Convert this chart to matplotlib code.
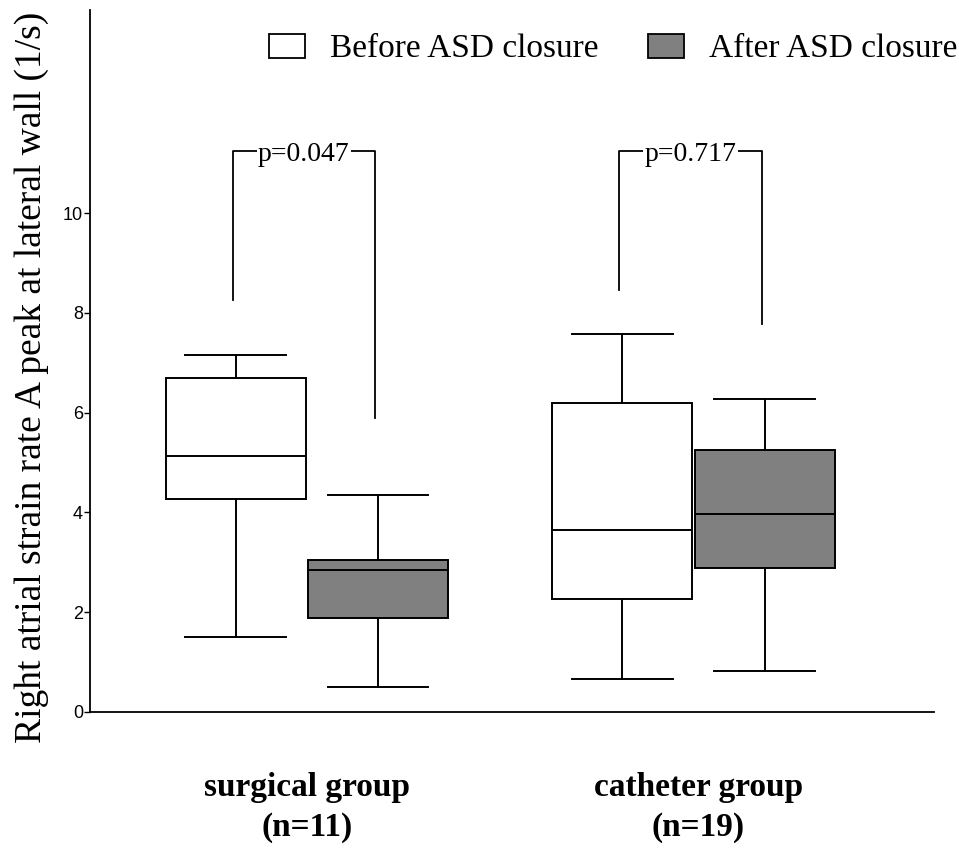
import matplotlib
matplotlib.use("Agg")
import matplotlib.pyplot as plt
from matplotlib.patches import Patch

# Right atrial strain rate, A peak at lateral wall (1/s)
groups = ["surgical group\n(n=11)", "catheter group\n(n=19)"]
conditions = ["Before ASD closure", "After ASD closure"]

# box statistics per group: [before, after]
whislo = [[1.50, 0.50], [0.66, 0.83]]
q1 = [[4.26, 1.88], [2.26, 2.89]]
med = [[5.14, 2.85], [3.64, 3.97]]
q3 = [[6.70, 3.05], [6.19, 5.26]]
whishi = [[7.15, 4.34], [7.58, 6.27]]

# significance brackets: p-value, left drop, right drop
p_labels = ["p=0.047", "p=0.717"]
bracket_top = 11.24
bracket_left = [8.26, 8.46]
bracket_right = [5.90, 7.78]

fill_colors = ["white", "#808080"]
serif = ["Liberation Serif", "DejaVu Serif"]

fig = plt.figure(figsize=(9.59, 8.52), dpi=100)
ax = fig.add_axes([90 / 959, 140 / 852, 844 / 959, 702 / 852])

offset = 0.184
width = 0.362
for g in range(len(groups)):
    for c in range(len(conditions)):
        stats = [dict(whislo=whislo[g][c], q1=q1[g][c], med=med[g][c],
                      q3=q3[g][c], whishi=whishi[g][c], fliers=[])]
        pos = g + 1 + (offset if c else -offset)
        ax.bxp(stats, positions=[pos], widths=width, capwidths=0.26,
               patch_artist=True, showfliers=False,
               boxprops=dict(facecolor=fill_colors[c], edgecolor="black", linewidth=1.4),
               medianprops=dict(color="black", linewidth=1.4),
               whiskerprops=dict(color="black", linewidth=1.4),
               capprops=dict(color="black", linewidth=1.4))

    # bracket with p-value
    xl = g + 1 - offset - 0.008
    xr = g + 1 + offset - 0.008
    ax.plot([xl, xl, xr, xr], [bracket_left[g], bracket_top, bracket_top, bracket_right[g]],
            color="black", linewidth=1.3)
    ax.text((xl + xr) / 2, bracket_top - 0.06, p_labels[g], ha="center", va="center",
            family=serif, fontsize=20,
            bbox=dict(facecolor="white", edgecolor="none", pad=1))

    ax.text(g + 1 + 0.012 * g, -1.2, groups[g], ha="center", va="top", family=serif,
            fontsize=24, fontweight="bold", linespacing=1.38)

ax.set_xlim(0.439, 2.622)
ax.set_ylim(0, 14.07)
ax.set_xticks([])
ax.set_yticks([0, 2, 4, 6, 8, 10])
ax.tick_params(axis="y", length=4, width=1, pad=1, labelsize=13)
for lbl in ax.get_yticklabels():
    lbl.set_family(["Liberation Sans", "DejaVu Sans"])
for side in ["top", "right"]:
    ax.spines[side].set_visible(False)
for side in ["left", "bottom"]:
    ax.spines[side].set_linewidth(1.3)

fig.text(32 / 959, 1 - 377 / 852, "Right atrial strain rate A peak at lateral wall (1/s)",
         rotation=90, ha="center", va="center", family=serif, fontsize=27)

handles = [Patch(facecolor=fill_colors[c], edgecolor="black", linewidth=1.3, label=conditions[c])
           for c in range(len(conditions))]
ax.legend(handles=handles, loc="center", ncol=2, frameon=False,
          bbox_to_anchor=(613 / 959, 1 - 49 / 852), bbox_transform=fig.transFigure,
          prop=dict(family=serif, size=24), handlelength=1.08, handleheight=0.72,
          handletextpad=0.75, columnspacing=1.5, borderpad=0)

fig.savefig("out.png", dpi=100)
